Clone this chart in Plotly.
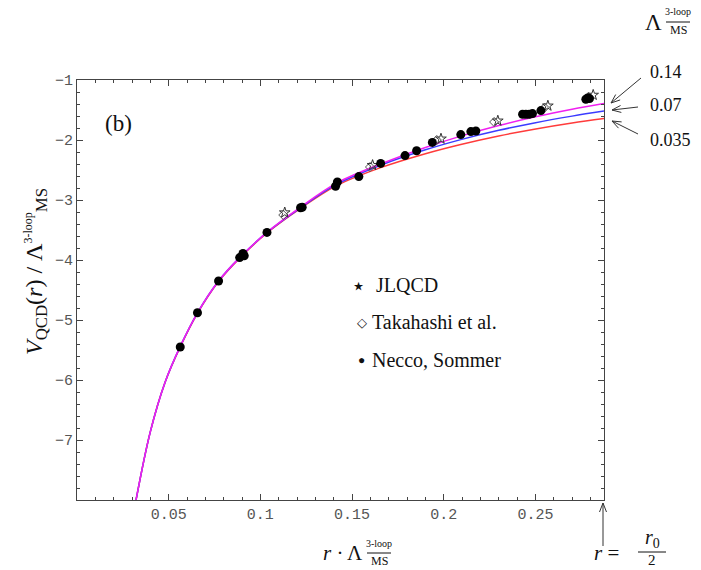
import math
import plotly.graph_objects as go

# ---- data ----
curve_r = [0.0322, 0.0400, 0.0480, 0.0563, 0.0657, 0.0772, 0.0887, 0.1036, 0.1219,
           0.1415, 0.1656, 0.1900, 0.2093, 0.2300, 0.2494, 0.2700, 0.2874]
curve_014 = [-8.0, -6.86, -6.04, -5.44, -4.88, -4.35, -3.96, -3.54, -3.12,
             -2.72, -2.40, -2.124, -1.935, -1.759, -1.617, -1.487, -1.391]
curve_007 = [-8.0, -6.86, -6.04, -5.44, -4.88, -4.35, -3.96, -3.54, -3.13,
             -2.74, -2.42, -2.164, -1.994, -1.839, -1.715, -1.602, -1.518]
curve_0035 = [-8.0, -6.86, -6.04, -5.45, -4.89, -4.36, -3.97, -3.55, -3.14,
              -2.76, -2.46, -2.228, -2.074, -1.933, -1.820, -1.717, -1.642]

necco_r = [0.0563, 0.0657, 0.0772, 0.0887, 0.0905, 0.0912, 0.1036, 0.1219, 0.1228,
           0.1410, 0.1420, 0.1537, 0.1656, 0.1789, 0.1852, 0.1938, 0.2093, 0.2148,
           0.2175, 0.2430, 0.2448, 0.2466, 0.2484, 0.2530, 0.2775, 0.2785, 0.2795]
necco_v = [-5.45, -4.88, -4.35, -3.96, -3.89, -3.93, -3.54, -3.13, -3.12,
           -2.77, -2.70, -2.61, -2.39, -2.26, -2.18, -2.04, -1.91, -1.86,
           -1.85, -1.57, -1.57, -1.57, -1.56, -1.51, -1.32, -1.30, -1.31]

jlqcd_r = [0.1133, 0.1612, 0.1985, 0.2295, 0.2568, 0.2815]
jlqcd_v = [-3.21, -2.42, -1.98, -1.68, -1.43, -1.25]

taka_r = [0.1125, 0.1598, 0.1962, 0.2275, 0.2550, 0.2790]
taka_v = [-3.25, -2.45, -2.00, -1.70, -1.46, -1.28]

x_ticks = [0.05, 0.10, 0.15, 0.20, 0.25]
x_ticktext = ["0.05", "0.1", "0.15", "0.2", "0.25"]
y_ticks = [-7, -6, -5, -4, -3, -2, -1]
y_ticktext = ["\u22127", "\u22126", "\u22125", "\u22124", "\u22123", "\u22122", "\u22121"]
lambda_labels = ["0.14", "0.07", "0.035"]
legend_names = ["JLQCD", "Takahashi et al.", "Necco, Sommer"]

# ---- layout geometry ----
W, H = 701, 570
L, R, T, B = 77, 97, 80, 70
PW, PH = W - L - R, H - T - B

def px(x):
    return (x - L) / PW

def py(y):
    return (H - B - y) / PH

serif = "Liberation Serif"
ink = "#111"

fig = go.Figure()
fig.add_trace(go.Scatter(x=curve_r, y=curve_0035, mode="lines", line=dict(color="#ff3b3b", width=1.5, shape="spline"), hoverinfo="skip"))
fig.add_trace(go.Scatter(x=curve_r, y=curve_007, mode="lines", line=dict(color="#3b3bff", width=1.5, shape="spline"), hoverinfo="skip"))
fig.add_trace(go.Scatter(x=curve_r, y=curve_014, mode="lines", line=dict(color="#f020f0", width=1.5, shape="spline"), hoverinfo="skip"))
fig.add_trace(go.Scatter(x=taka_r, y=taka_v, mode="markers",
                         marker=dict(symbol="diamond-open", size=7, color="#555", line=dict(width=1))))
fig.add_trace(go.Scatter(x=jlqcd_r, y=jlqcd_v, mode="markers",
                         marker=dict(symbol="star-open", size=8, color="#333", line=dict(width=1))))
fig.add_trace(go.Scatter(x=necco_r, y=necco_v, mode="markers",
                         marker=dict(symbol="circle", size=9, color="black")))

axis_common = dict(showgrid=False, zeroline=False, showline=True, linecolor="#444", linewidth=1,
                   mirror="ticks", ticks="inside", ticklen=6, tickcolor="#444",
                   tickfont=dict(family="Liberation Mono", size=15, color="#555"))

fig.update_xaxes(range=[0, 0.2874], tickvals=x_ticks, ticktext=x_ticktext,
                 minor=dict(dtick=0.01, tick0=0, ticks="inside", ticklen=3, tickcolor="#444"),
                 **axis_common)
fig.update_yaxes(range=[-8, -1], tickvals=y_ticks, ticktext=y_ticktext,
                 minor=dict(dtick=0.2, tick0=-1, ticks="inside", ticklen=3, tickcolor="#444"),
                 **axis_common)

ann = []
shapes = []

def text(x, y, s, size=19, xanchor="center", yanchor="middle", angle=0):
    ann.append(dict(x=px(x), y=py(y), xref="paper", yref="paper", text=s, showarrow=False,
                    xanchor=xanchor, yanchor=yanchor, textangle=angle,
                    font=dict(family=serif, size=size, color=ink)))

def hline(x0, x1, y):
    shapes.append(dict(type="line", xref="paper", yref="paper", x0=px(x0), x1=px(x1),
                       y0=py(y), y1=py(y), line=dict(color=ink, width=1)))

def arrow(hx, hy, tx, ty, head=9, half=3.5):
    d = math.hypot(tx - hx, ty - hy)
    ux, uy = (tx - hx) / d, (ty - hy) / d
    nx, ny = -uy, ux
    w1 = (hx + head * ux + half * nx, hy + head * uy + half * ny)
    w2 = (hx + head * ux - half * nx, hy + head * uy - half * ny)
    p = (f"M {px(tx)},{py(ty)} L {px(hx)},{py(hy)} "
         f"M {px(w1[0])},{py(w1[1])} L {px(hx)},{py(hy)} L {px(w2[0])},{py(w2[1])}")
    shapes.append(dict(type="path", xref="paper", yref="paper", path=p,
                       line=dict(color="#333", width=1)))

def lam_stack(x, y, size=20):
    # Lambda with stacked "3-loop" over an overlined "MS"
    text(x, y, "\u039b", size=size, xanchor="right")
    text(x + 14, y - 10, "3-loop", size=10)
    hline(x + 2, x + 26, y)
    text(x + 14, y + 8, "MS", size=12)

text(118, 124, "(b)", size=23)

# legend (drawn as text, as in the reference)
text(358, 286, "\u22c6", size=24)
text(374, 285, legend_names[0], xanchor="left", size=20)
text(362, 322, "\u25c7", size=13)
text(370, 322, legend_names[1], xanchor="left", size=20)
text(361, 360, "\u25cf", size=12)
text(370, 360, legend_names[2], xanchor="left", size=20)

# top-right Lambda labels
lam_stack(664, 22, size=23)
text(648, 72, lambda_labels[0], xanchor="left", size=18)
text(648, 105, lambda_labels[1], xanchor="left", size=18)
text(648, 140, lambda_labels[2], xanchor="left", size=18)
arrow(611, 103, 641, 78)
arrow(612, 110, 638, 107)
arrow(612, 121, 638, 134)

# x axis title
text(345, 553, "<i>r</i> \u00b7", size=21, xanchor="right")
lam_stack(365, 553, size=21)

# y axis title (rotated)
ann.append(dict(x=px(36), y=py(272), xref="paper", yref="paper", textangle=-90, showarrow=False,
                text="<i>V</i><sub>QCD</sub>(<i>r</i>) / \u039b<sup><span style='font-size:12px'>3-loop</span></sup><sub>MS</sub>",
                font=dict(family=serif, size=24, color=ink), xanchor="center", yanchor="middle"))

# r = r0/2 marker
arrow(603, 503, 603, 546)
text(606, 553, "<i>r</i> =", size=21)
text(652, 538, "<i>r</i><sub>0</sub>", size=20)
hline(638, 666, 552)
text(652, 560, "2", size=15)

fig.update_layout(width=W, height=H, margin=dict(l=L, r=R, t=T, b=B, autoexpand=False),
                  paper_bgcolor="white", plot_bgcolor="white", showlegend=False,
                  annotations=ann, shapes=shapes)

fig.write_html("out.html")
